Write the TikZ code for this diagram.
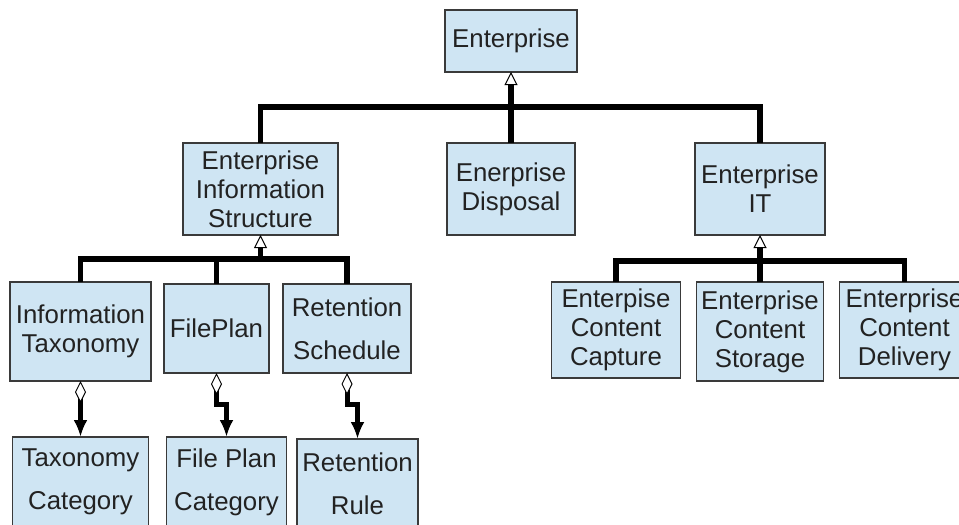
\documentclass[tikz,border=0pt]{standalone}
\usepackage{fontspec}
\setmainfont{Liberation Sans}
\usepackage{tikz}
\usetikzlibrary{arrows.meta}
\usetikzlibrary{positioning}
\definecolor{boxfill}{HTML}{CFE5F3}
\definecolor{boxline}{HTML}{3A3A3A}
\definecolor{boxtext}{HTML}{222222}
\tikzset{auto, >={Latex[length=17pt, width=14pt]}, node distance=1cm, font=\fontsize{25.8}{29}\selectfont}
\tikzstyle{block} = [draw=boxline, line width=1.3pt, fill=boxfill, text=boxtext, rectangle, inner sep=0pt, outer sep=0pt, text centered, align=center]
\tikzstyle{junction} = [coordinate]
\tikzstyle{bus} = [draw, line width=5.5pt]
\tikzstyle{gen} = [bus, -{Triangle[fill=white, length=13pt, width=13pt, line width=1pt]}]
\tikzstyle{agg} = [draw, line width=5pt, {Diamond[fill=white, length=22pt, width=11pt, line width=1pt]}->]

\begin{document}
\begin{tikzpicture}
    \useasboundingbox (0,0) rectangle (959pt,-525pt);
    \clip (0,0) rectangle (959pt,-525pt);

    \node [block, minimum width=132pt, minimum height=62pt] (ent) at (511pt,-41pt) {Enterprise};
    \node [block, below=71pt of ent, minimum width=128pt, minimum height=92pt] (ent_disp) {Enerprise\\Disposal};
    \node [block, left=109pt of ent_disp, minimum width=155pt, minimum height=92pt] (ent_info) {Enterprise\\Information\\Structure};
    \node [block, right=120pt of ent_disp, minimum width=130pt, minimum height=92pt] (ent_it) {Enterprise\\IT};
    \node [junction, below=35pt of ent] (top_bus) {};

    \node [block, below left=47pt and 32pt of ent_info, minimum width=141pt, minimum height=99pt] (info_tax) {Information\\Taxonomy};
    \node [block, right=13pt of info_tax, yshift=3pt, minimum width=105pt, minimum height=89pt] (file_plan) {FilePlan};
    \node [block, right=14pt of file_plan, minimum width=128pt, minimum height=89pt] (ret_sched) {Retention\\[14pt]Schedule};
    \node [junction, below=24pt of ent_info] (info_bus) {};

    \node [block, below=47pt of ent_it, minimum width=127pt, minimum height=99pt] (ec_storage) {Enterprise\\Content\\Storage};
    \node [block, left=16pt of ec_storage, yshift=1.5pt, minimum width=129pt, minimum height=96pt] (ec_capture) {Enterpise\\Content\\Capture};
    \node [block, right=16pt of ec_storage, yshift=1.5pt, minimum width=130pt, minimum height=96pt] (ec_delivery) {Enterprise\\Content\\Delivery};
    \node [junction, below=26pt of ent_it] (it_bus) {};

    \node [block, below=56pt of info_tax, minimum width=136pt, minimum height=90pt] (tax_cat) {Taxonomy\\[14pt]Category};
    \node [block, below=64pt of file_plan, xshift=10pt, minimum width=120pt, minimum height=90pt] (fp_cat) {File Plan\\[14pt]Category};
    \node [block, below=66pt of ret_sched, xshift=10.5pt, minimum width=121pt, minimum height=90pt] (ret_rule) {Retention\\[14pt]Rule};

    \draw [bus] (ent_info.north) |- (top_bus) -| (ent_it.north);
    \draw [gen] (ent_disp.north) -- (ent.south);
    \draw [bus] (info_tax.north) |- (info_bus) -| (ret_sched.north);
    \draw [bus] (file_plan.north) -- (file_plan.north |- info_bus);
    \draw [gen] (info_bus) -- (ent_info.south);
    \draw [bus] (ec_capture.north) |- (it_bus) -| (ec_delivery.north);
    \draw [bus] (ec_storage.north) -- (ec_storage.north |- it_bus);
    \draw [gen] (it_bus) -- (ent_it.south);
    \draw [agg] (info_tax.south) -- (tax_cat.north);
    \draw [agg] (file_plan.south) -- ++(0,-31pt) -| (fp_cat.north);
    \draw [agg] (ret_sched.south) -- ++(0,-31pt) -| (ret_rule.north);
\end{tikzpicture}
\end{document}
